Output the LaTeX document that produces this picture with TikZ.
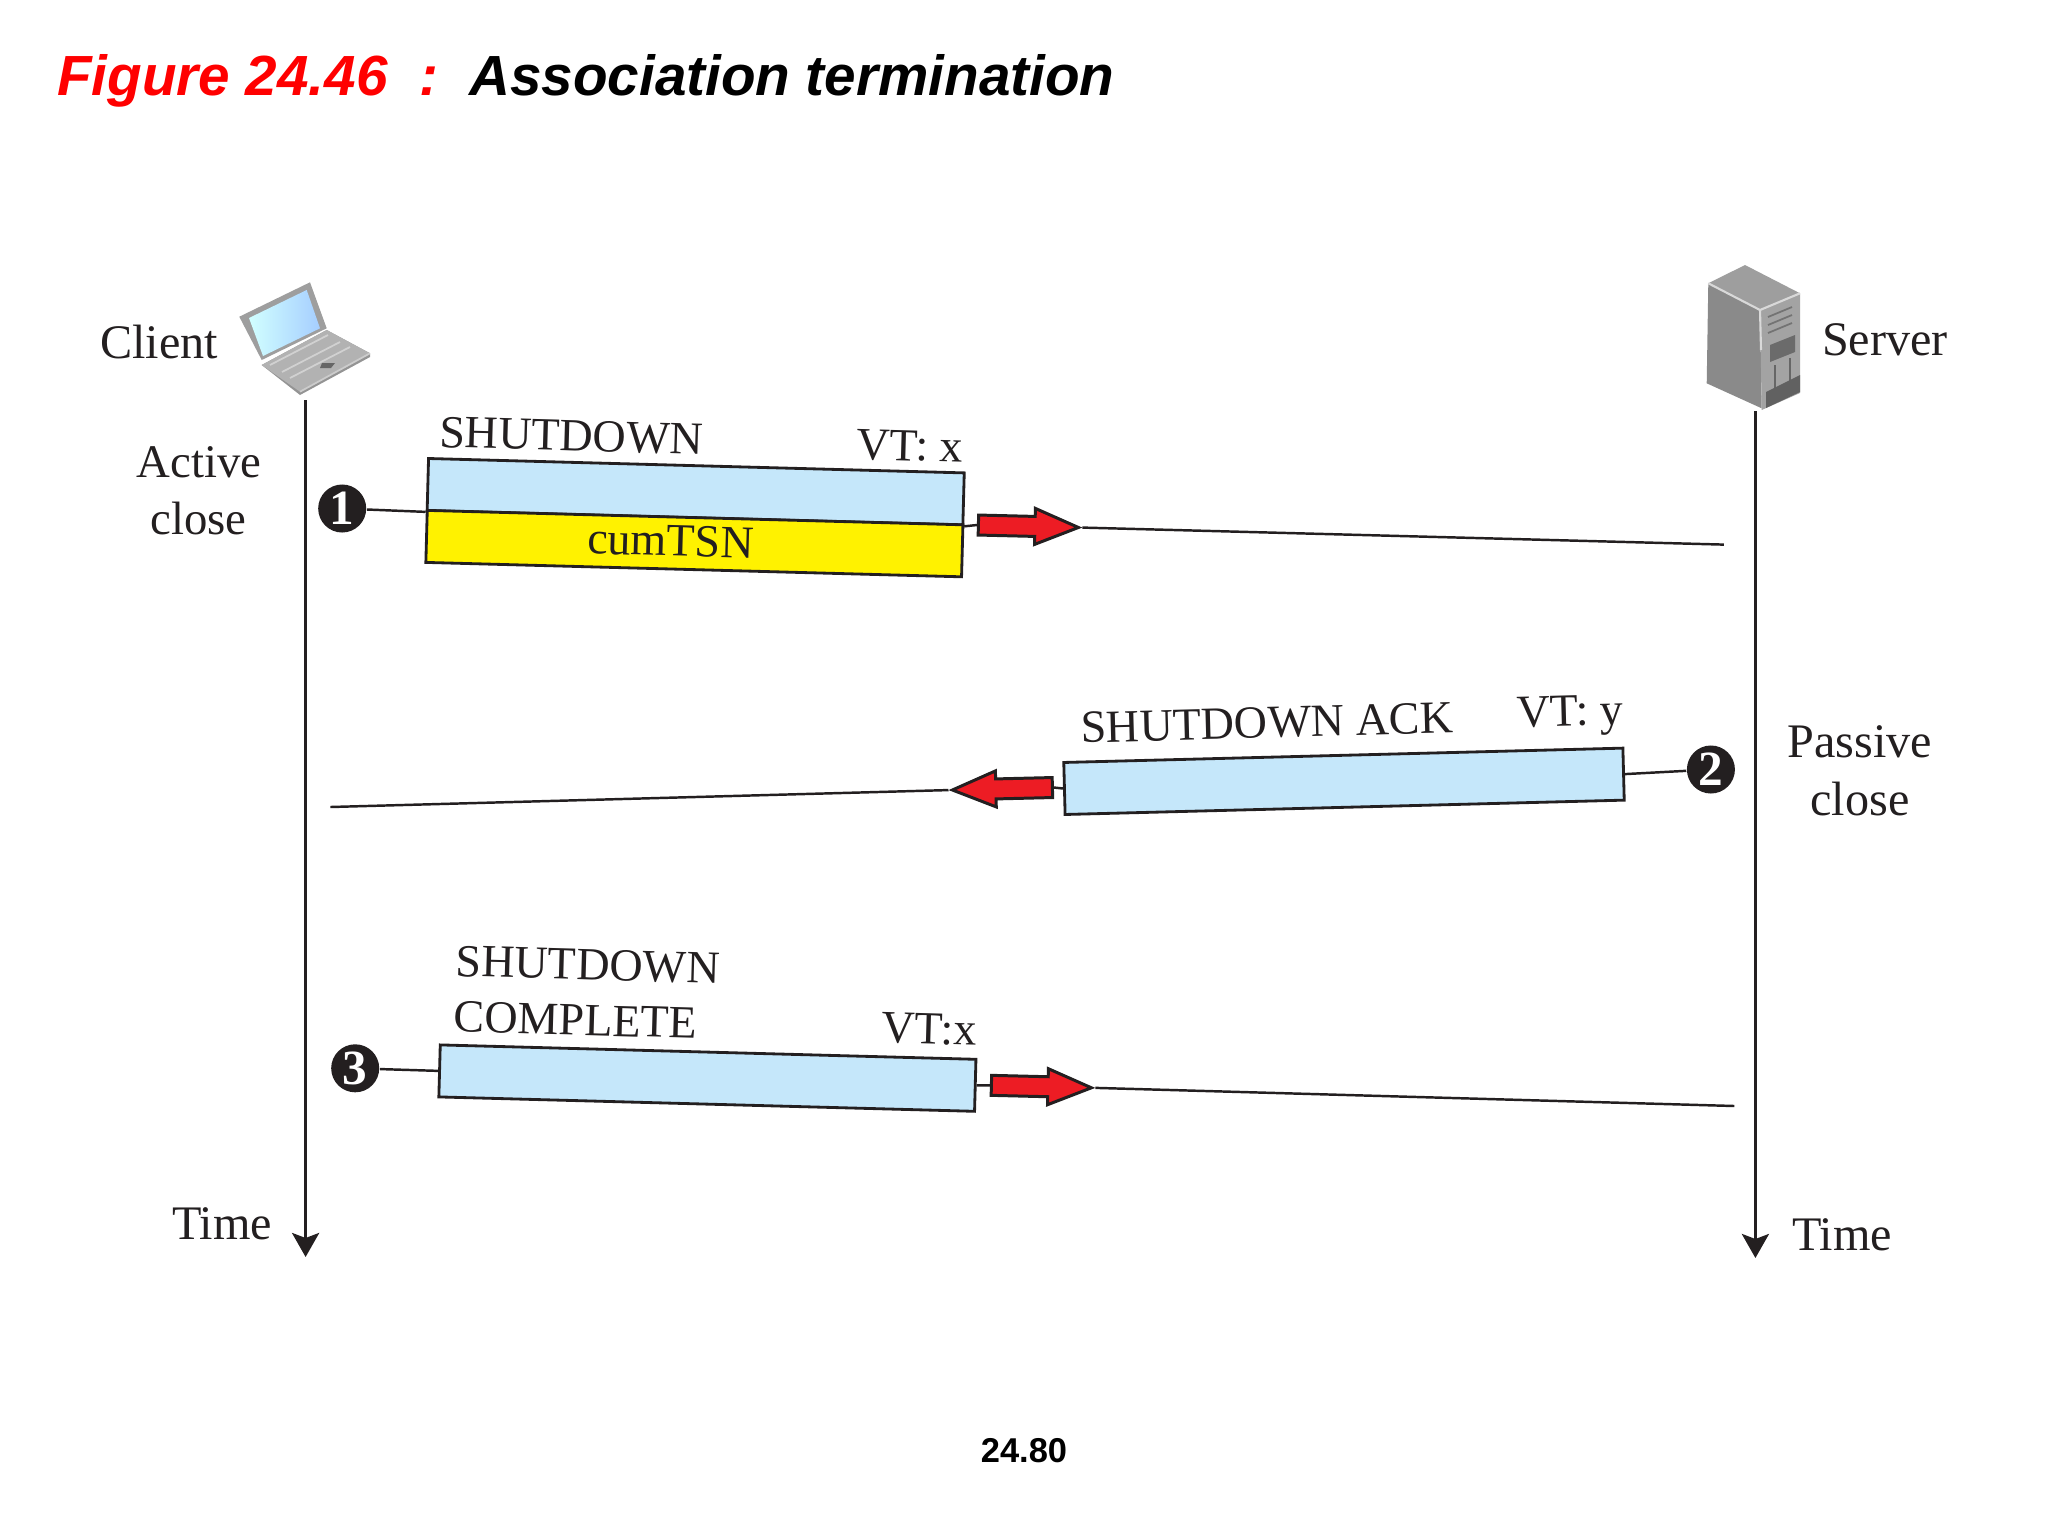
\documentclass[tikz,border=0pt]{standalone}
\usepackage{fontspec}
\setmainfont{Liberation Serif}
\newfontfamily\arialf{Liberation Sans}
\usetikzlibrary{arrows.meta,shapes.arrows}
\definecolor{boxblue}{HTML}{C5E7FA}
\definecolor{boxyellow}{HTML}{FFF200}
\definecolor{arrred}{HTML}{ED1C24}
\definecolor{ink}{HTML}{231F20}
\definecolor{figred}{HTML}{FF0000}
\tikzset{
  lbl/.style={font=\fontsize{13.1}{16}\selectfont,text=ink,inner sep=0pt},
  sidelbl/.style={font=\fontsize{13.7}{16}\selectfont,text=ink,inner sep=0pt},
  pktbox/.style={draw=ink,line width=.8pt,minimum width=5.356cm,minimum height=.52cm,inner sep=0pt},
  pktline/.style={draw=ink,line width=.7pt},
  redarrow/.style={single arrow,draw=ink,fill=arrred,line width=.85pt,inner xsep=0pt,inner ysep=.085cm,minimum height=1.0cm,minimum width=.33cm,single arrow head extend=.08cm,single arrow tip angle=45,anchor=tail},
  stepdot/.style={circle,fill=ink,text=white,minimum size=.48cm,inner sep=0pt,font=\fontsize{14}{14}\selectfont\bfseries},
  lifeline/.style={draw=ink,line width=.95pt,-{Stealth[length=.24cm,width=.27cm,inset=.05cm]}},
}
\begin{document}
\begin{tikzpicture}[x=.01cm,y=-.01cm]
\useasboundingbox (0,0) rectangle (2048,1536);
% title
\node[anchor=base west,inner sep=0pt,font=\arialf\fontsize{16.1}{20}\selectfont\bfseries\itshape] (title) at (56.5,95.5)
  {\textcolor{figred}{Figure 24.46\ \ :}\ \ \textcolor{black}{Association termination}};
\node[inner sep=0pt,font=\arialf\fontsize{9.8}{12}\selectfont\bfseries] (pageno) at (1024,1451) {24.80};
% laptop
\fill[black!42] (261.7,365) -- (300,395) -- (370,357) -- (370,353.3) -- (326.7,330) -- cycle;
\fill[black!30] (261.7,365) -- (326.7,330) -- (370,353.3) -- (300,391.7) -- cycle;
\draw[black!18,line width=.5pt] (270,365) -- (328,335) (282,372) -- (340,342) (290,378) -- (350,347);
\fill[black!60] (322,363) -- (335,363) -- (331,368) -- (320,368) -- cycle;
\fill[black!38] (239.3,316.7) -- (310,282.3) -- (326.7,328.3) -- (261.7,360) -- cycle;
\shade[left color=cyan!18!white,right color=cyan!45!blue!35!white] (249,318) -- (306.7,290) -- (320,328.3) -- (263,356) -- cycle;
\draw[black!20,line width=.5pt] (300,391.7) -- (370,353.3);
% server
\fill[black!38] (1708.3,283.3) -- (1745,265) -- (1800,293.3) -- (1760,310) -- cycle;
\fill[black!46] (1708.3,283.3) -- (1760,310) -- (1761.7,408.3) -- (1706.7,383.3) -- cycle;
\fill[black!36] (1760,310) -- (1800,293.3) -- (1800,393) -- (1761.7,410) -- cycle;
\draw[black!15,line width=.6pt] (1708.3,283.3) -- (1760,310) -- (1800,293.3) (1760,310) -- (1761,350);
\draw[black!55,line width=.5pt] (1768,317) -- (1792,307) (1768,325) -- (1792,315) (1768,333) -- (1792,323);
\fill[black!58] (1770,345) -- (1795,335) -- (1795,352) -- (1770,362) -- cycle;
\draw[black!60,line width=.6pt] (1775,365) -- (1775,392) (1790,358) -- (1790,385);
\fill[black!62] (1766,392) -- (1800,375) -- (1800,392) -- (1766,408) -- cycle;
% lifelines
\coordinate (cltop) at (305.6,400);
\coordinate (clbot) at (305.6,1257);
\coordinate (svtop) at (1755.4,411);
\coordinate (svbot) at (1755.4,1258);
\path[lifeline] (cltop) -- (clbot);
\path[lifeline] (svtop) -- (svbot);
% labels
\node[sidelbl] (client) at (159,342) {Client};
\node[lbl,font=\fontsize{13.3}{16}\selectfont] (active) at (199,462.5) {Active};
\node[lbl,font=\fontsize{13.3}{16}\selectfont] (aclose) at (198.5,518) {close};
\node[sidelbl] (server) at (1885,340) {Server};
\node[sidelbl] (passive) at (1860,742) {Passive};
\node[sidelbl] (pclose) at (1860,799) {close};
\node[sidelbl] (time1) at (222,1224) {Time};
\node[sidelbl] (time2) at (1842,1235) {Time};
% boxes
\node[pktbox,fill=boxblue,rotate=-1.54] (box1) at (695.7,491.7) {};
\node[pktbox,fill=boxyellow,rotate=-1.54] (box1y) at (694.4,543.6) {};
\node[pktbox,fill=boxblue,rotate=1.47,minimum width=5.59cm] (box2) at (1344,781.3) {};
\node[pktbox,fill=boxblue,rotate=-1.54] (box3) at (707.4,1078.1) {};
% box labels
\node[lbl,rotate=-1.6] (s1) at (571.5,436) {SHUTDOWN};
\node[lbl,rotate=-1.6] (vt1) at (910,446) {VT: x};
\node[lbl,rotate=-1.6] (cum) at (671,541) {cumTSN};
\node[lbl,rotate=1.5] (s2) at (1267,723) {SHUTDOWN ACK};
\node[lbl,rotate=1.5] (vt2) at (1570,716) {VT: y};
\node[lbl,rotate=-1.6] (s3) at (588,965) {SHUTDOWN};
\node[lbl,rotate=-1.6] (s3b) at (575.5,1020) {COMPLETE};
\node[lbl,rotate=-1.6] (vt3) at (929,1029) {VT:x};
% step dots
\node[stepdot] (c1) at (342.2,508.5) {1};
\node[stepdot] (c2) at (1710.9,769.5) {2};
\node[stepdot] (c3) at (355.2,1068.3) {3};
% red arrows
\node[redarrow,rotate=-1.4] (arr1) at (976.9,525) {};
\node[redarrow,rotate=181.4] (arr2) at (1053.9,787.5) {};
\node[redarrow,rotate=-1.4] (arr3) at (989.9,1085.3) {};
% free ends
\coordinate (end1) at (1723.9,544.6);
\coordinate (end2) at (330.4,807);
\coordinate (end3) at (1734.3,1106);
% connectors
\path[pktline] (c1) -- (box1.south west);
\path[pktline] (box1.south east) -- (arr1.tail);
\path[pktline] (arr1.tip) -- (end1);
\path[pktline] (c2) -- (box2.east);
\path[pktline] (box2.west) -- (arr2.tail);
\path[pktline] (arr2.tip) -- (end2);
\path[pktline] (c3) -- (box3.west);
\path[pktline] (box3.east) -- (arr3.tail);
\path[pktline] (arr3.tip) -- (end3);
\end{tikzpicture}
\end{document}
